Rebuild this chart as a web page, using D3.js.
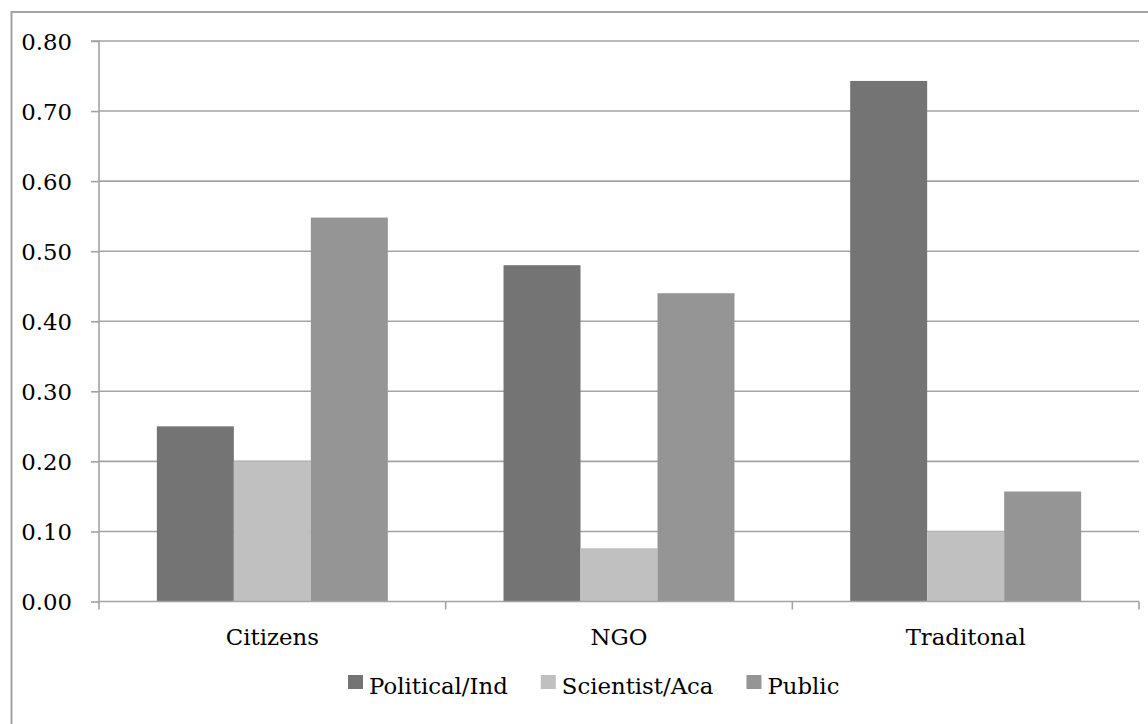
<!DOCTYPE html>
<html>
<head>
<meta charset="utf-8">
<script src="https://cdn.jsdelivr.net/npm/d3@7/dist/d3.min.js"></script>
<style>
  html, body { margin: 0; padding: 0; background: #fff; }
  svg { display: block; }
  text { font-family: "DejaVu Serif", "Liberation Serif", serif; fill: #000; }
</style>
</head>
<body>
<svg id="chart" width="1148" height="724"></svg>
<script>
// Group categories, series names and values
const categories = ["Citizens", "NGO", "Traditonal"];
const seriesNames = ["Political/Ind", "Scientist/Aca", "Public"];
const politicalInd = [0.25, 0.48, 0.743];
const scientistAca = [0.20, 0.076, 0.10];
const publicVals = [0.548, 0.44, 0.157];
const yTicks = [0, 0.1, 0.2, 0.3, 0.4, 0.5, 0.6, 0.7, 0.8];

const seriesValues = [politicalInd, scientistAca, publicVals];
const colors = ["#747474", "#c0c0c0", "#959595"];

const svg = d3.select("#chart");
const plot = { left: 99, right: 1139, top: 41, bottom: 601.5 };
const fontSize = 22.8;
const fontFamily = "'DejaVu Serif', 'Liberation Serif', serif";
const gridColor = "#a3a3a3";

// Outer chart frame (extends beyond the view on the right and bottom)
svg.append("rect")
  .attr("x", 11.5).attr("y", 12)
  .attr("width", 1160).attr("height", 740)
  .attr("fill", "none")
  .attr("stroke", gridColor)
  .attr("stroke-width", 2);

const x0 = d3.scaleBand()
  .domain(categories)
  .range([plot.left, plot.right])
  .paddingInner(0)
  .paddingOuter(0);

const groupFrac = 231 / 346.7;
const x1 = d3.scaleBand()
  .domain(seriesNames)
  .range([0, x0.bandwidth() * groupFrac]);

const y = d3.scaleLinear()
  .domain([0, 0.8])
  .range([plot.bottom, plot.top]);

// Horizontal gridlines
svg.append("g")
  .selectAll("line")
  .data(yTicks.filter(d => d > 0))
  .join("line")
  .attr("x1", plot.left).attr("x2", plot.right)
  .attr("y1", d => y(d)).attr("y2", d => y(d))
  .attr("stroke", gridColor)
  .attr("stroke-width", 1.6);

// Bars
const groupOffset = (x0.bandwidth() - x0.bandwidth() * groupFrac) / 2;
const groups = svg.append("g")
  .selectAll("g")
  .data(categories)
  .join("g")
  .attr("transform", d => `translate(${x0(d) + groupOffset},0)`);

groups.selectAll("rect")
  .data((c, i) => seriesNames.map((s, k) => ({ s, k, v: seriesValues[k][i] })))
  .join("rect")
  .attr("x", d => x1(d.s))
  .attr("width", x1.bandwidth())
  .attr("y", d => y(d.v))
  .attr("height", d => y(0) - y(d.v))
  .attr("fill", d => colors[d.k]);

// Y axis
const yAxis = d3.axisLeft(y)
  .tickValues(yTicks)
  .tickFormat(d3.format(".2f"))
  .tickSize(8)
  .tickPadding(19);

const gy = svg.append("g")
  .attr("transform", `translate(${plot.left},0)`)
  .call(yAxis)
  .attr("font-family", fontFamily)
  .attr("font-size", fontSize);
gy.select(".domain").attr("stroke", gridColor).attr("stroke-width", 1.6)
  .attr("d", `M-8,${plot.top}H0V${plot.bottom}`);
gy.selectAll(".tick line").attr("stroke", gridColor).attr("stroke-width", 1.6);
gy.selectAll(".tick text")
  .style("font-family", fontFamily)
  .style("font-size", fontSize + "px")
  .attr("fill", "#000")
  .attr("dy", "0.36em");

// X axis: baseline, category boundary ticks and labels
const gx = svg.append("g");
gx.append("line")
  .attr("x1", plot.left).attr("x2", plot.right)
  .attr("y1", plot.bottom).attr("y2", plot.bottom)
  .attr("stroke", gridColor).attr("stroke-width", 1.6);

const boundaries = categories.map(c => x0(c)).concat([x0(categories[categories.length - 1]) + x0.bandwidth()]);
gx.selectAll("line.tick")
  .data(boundaries)
  .join("line")
  .attr("class", "tick")
  .attr("x1", d => d).attr("x2", d => d)
  .attr("y1", plot.bottom).attr("y2", plot.bottom + 8)
  .attr("stroke", gridColor).attr("stroke-width", 1.6);

gx.selectAll("text")
  .data(categories)
  .join("text")
  .attr("x", d => x0(d) + x0.bandwidth() / 2)
  .attr("y", 645)
  .attr("text-anchor", "middle")
  .style("font-family", fontFamily)
  .style("font-size", fontSize + "px")
  .text(d => d);

// Legend
const legend = svg.append("g");
let lx = 348;
seriesNames.forEach((name, k) => {
  legend.append("rect")
    .attr("x", lx).attr("y", 675)
    .attr("width", 15).attr("height", 14)
    .attr("fill", colors[k]);
  const t = legend.append("text")
    .attr("x", lx + 21).attr("y", 694)
    .style("font-family", fontFamily)
    .style("font-size", fontSize + "px")
    .text(name);
  const w = t.node().getComputedTextLength();
  lx = lx + 21 + w + 33;
});
</script>
</body>
</html>
